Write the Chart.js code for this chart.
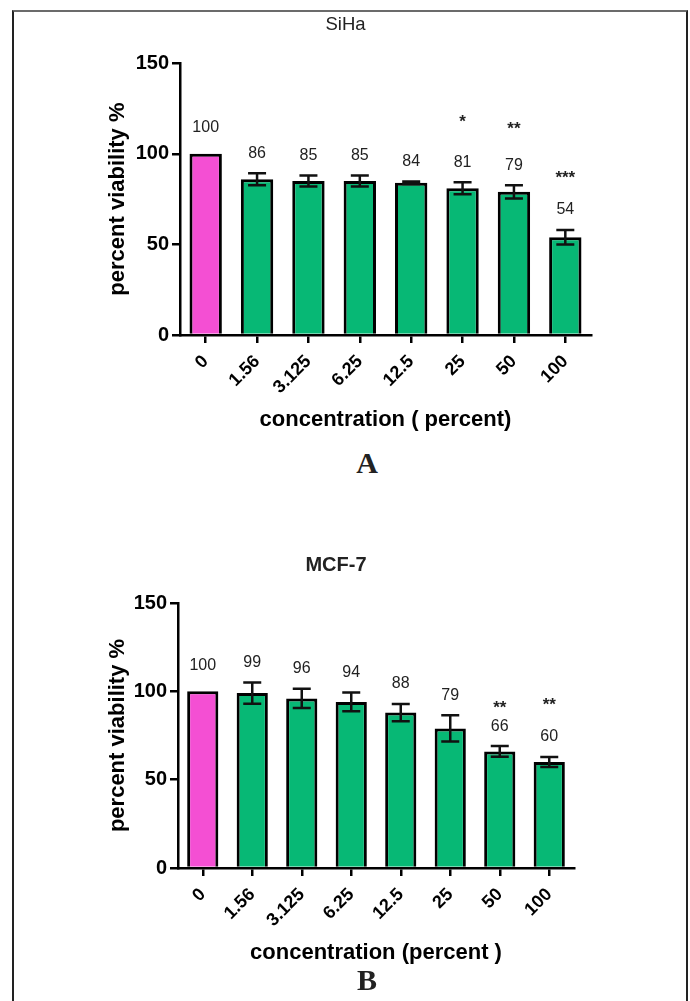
<!DOCTYPE html>
<html>
<head>
<meta charset="utf-8">
<script src="https://cdn.jsdelivr.net/npm/chart.js@4.4.1/dist/chart.umd.min.js"></script>
<style>
  html, body { margin: 0; padding: 0; background: #fff; }
  body { width: 690px; height: 1001px; position: relative; overflow: hidden; }
  .frame { position: absolute; left: 12px; top: 10px; width: 672px; height: 1010px;
    border-top: 2px solid #6b6b6b; border-left: 2px solid #222; border-right: 2px solid #222; }
  .wrap { position: absolute; left: 0; width: 690px; }
  #wrapA { top: 0; height: 440px; }
  #wrapB { top: 530px; height: 440px; }
  .panel { position: absolute; left: 317px; width: 100px; text-align: center;
    font-family: 'Liberation Serif', 'Times New Roman', serif; font-weight: bold;
    font-size: 30px; line-height: 30px; color: #222; }
</style>
</head>
<body>
<div class="frame"></div>
<div class="wrap" id="wrapA"><canvas id="chartA" width="690" height="440"></canvas></div>
<div class="wrap" id="wrapB"><canvas id="chartB" width="690" height="440"></canvas></div>
<div class="panel" style="top:448px">A</div>
<div class="panel" style="top:965px">B</div>

<script>
// データ
const concentrations = ['0', '1.56', '3.125', '6.25', '12.5', '25', '50', '100'];

const sihaViability = [100, 86, 85, 85, 84, 81, 79, 54];
const sihaError = [0, 3.3, 3, 3, 0.7, 3.3, 3.6, 4];
const sihaStars = ['', '', '', '', '', '*', '**', '***'];
const sihaStarAt = [null, null, null, null, null, 120, 116, 89];

const mcfViability = [100, 99, 96, 94, 88, 79, 66, 60];
const mcfError = [0, 6, 5.5, 5.3, 4.9, 7.4, 3, 2.8];
const mcfStars = ['', '', '', '', '', '', '**', '**'];
const mcfStarAt = [null, null, null, null, null, null, 92.6, 94.3];

const FONT = "'Liberation Sans', Arial, Helvetica, sans-serif";
Chart.defaults.font.family = FONT;

const barColors = concentrations.map((c, i) => i === 0 ? '#f44fd3' : '#07b875');

// エラーバーと数値ラベル
const annotate = {
  id: 'annotate',
  afterDatasetsDraw(chart, args, opts) {
    const ctx = chart.ctx;
    const y = chart.scales.y;
    const meta = chart.getDatasetMeta(0);
    ctx.save();
    meta.data.forEach((bar, i) => {
      const v = opts.values[i];
      const e = opts.errors[i];
      const x = bar.x;
      const top = y.getPixelForValue(v + e);
      const bot = y.getPixelForValue(v - e);
      if (e > 0) {
        ctx.strokeStyle = '#111';
        ctx.lineWidth = 2.5;
        ctx.beginPath();
        ctx.moveTo(x, top); ctx.lineTo(x, bot);
        ctx.moveTo(x - 9, top); ctx.lineTo(x + 9, top);
        ctx.moveTo(x - 9, bot); ctx.lineTo(x + 9, bot);
        ctx.stroke();
      }
      ctx.fillStyle = '#222';
      ctx.font = '16px ' + FONT;
      ctx.textAlign = 'center';
      ctx.textBaseline = 'middle';
      ctx.fillText(String(v), x, top - (e > 0 ? 20 : 26));
      // 有意差マーク
      if (opts.stars[i]) {
        ctx.font = 'bold 17px ' + FONT;
        ctx.textBaseline = 'alphabetic';
        ctx.fillText(opts.stars[i], x, y.getPixelForValue(opts.starAt[i]) + 9);
      }
    });
    ctx.restore();
  }
};

function axisLine() {
  return {
    grid: { display: true, drawOnChartArea: false, offset: false, color: '#000',
      tickColor: '#000', tickLength: 8, tickWidth: 2.5, lineWidth: 2.5 },
    border: { display: true, color: '#000', width: 2.5 }
  };
}

function makeChart(id, cfg) {
  return new Chart(document.getElementById(id), {
    type: 'bar',
    data: {
      labels: concentrations,
      datasets: [{
        data: cfg.values,
        backgroundColor: barColors,
        borderColor: '#000',
        borderWidth: 3,
        barPercentage: 0.63,
        categoryPercentage: 1
      }]
    },
    options: {
      responsive: false,
      animation: false,
      layout: { padding: cfg.padding },
      plugins: {
        legend: { display: false },
        tooltip: { enabled: false },
        title: {
          display: true,
          text: cfg.title,
          color: '#222',
          font: { size: cfg.titleSize, weight: cfg.titleWeight },
          padding: cfg.titlePadding
        },
        annotate: { values: cfg.values, errors: cfg.errors, stars: cfg.stars, starAt: cfg.starAt }
      },
      scales: {
        x: {
          ...axisLine(),
          ticks: { color: '#000', font: { size: 18, weight: 'bold' }, minRotation: 45, maxRotation: 45, padding: 8 },
          title: { display: true, text: cfg.xTitle, color: '#000', font: { size: 22, weight: 'bold' }, padding: { top: 0, bottom: 0 } },
          afterFit(s) { s.height = 98; }
        },
        y: {
          ...axisLine(),
          min: 0,
          max: 150,
          ticks: { stepSize: 50, color: '#000', font: { size: 20, weight: 'bold' }, padding: 3 },
          title: { display: true, text: 'percent viability %', color: '#000', font: { size: 22, weight: 'bold' }, padding: { top: cfg.yTitlePad, bottom: 0 } },
          afterFit(s) { s.width = 80; }
        }
      }
    },
    plugins: [annotate]
  });
}

makeChart('chartA', {
  title: 'SiHa', titleSize: 18.5, titleWeight: 'normal',
  titlePadding: { top: 14, bottom: 27 },
  padding: { left: 100, right: 99, top: 0, bottom: 7 },
  yTitlePad: 5,
  xTitle: 'concentration ( percent)',
  values: sihaViability, errors: sihaError, stars: sihaStars, starAt: sihaStarAt
});

makeChart('chartB', {
  title: 'MCF-7', titleSize: 20, titleWeight: 'bold',
  titlePadding: { top: 23, bottom: 26 },
  padding: { left: 98, right: 116, top: 0, bottom: 4 },
  yTitlePad: 7,
  xTitle: 'concentration (percent )',
  values: mcfViability, errors: mcfError, stars: mcfStars, starAt: mcfStarAt
});
</script>
</body>
</html>
